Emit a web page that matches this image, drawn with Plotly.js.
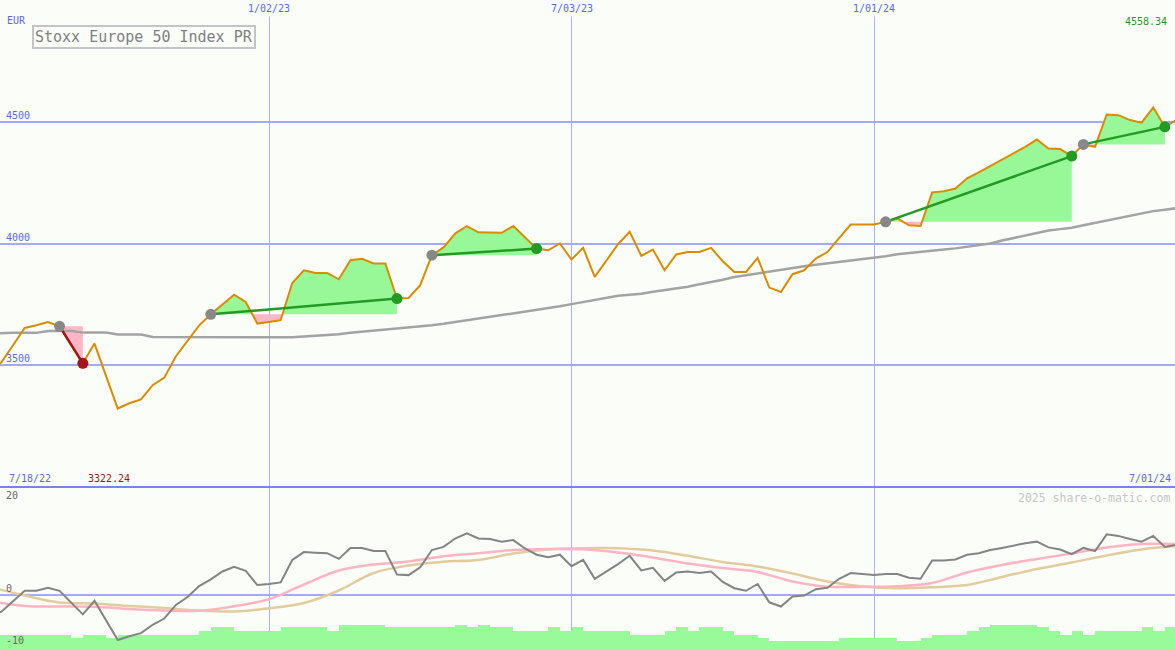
<!DOCTYPE html>
<html>
<head>
<meta charset="utf-8">
<script src="https://cdn.plot.ly/plotly-3.0.1.min.js"></script>
<style>
  html, body { margin: 0; padding: 0; background: #fbfdf9; }
  #chart { width: 1175px; height: 650px; }
</style>
</head>
<body>
<div id="chart"></div>
<script>
// ---------- DATA ----------
const firstWeek = '2022-07-18';
const weekCount = 103;

const price = [
  3480, 3512, 3582, 3653, 3664, 3677, 3660, 3586, 3508, 3589,
  3451, 3322.24, 3344, 3360, 3418, 3449, 3537, 3598, 3664, 3709,
  3750, 3790, 3760, 3671, 3678, 3685, 3838, 3890, 3879, 3879,
  3853, 3931, 3937, 3918, 3918, 3774, 3776, 3829, 3952, 3984,
  4041, 4071, 4046, 4045, 4044, 4072, 4026, 3979, 3972, 4000,
  3934, 3982, 3863, 3931, 3997, 4048, 3949, 3975, 3890, 3955,
  3965, 3965, 3982, 3927, 3883, 3883, 3941, 3819, 3801, 3874,
  3890, 3938, 3965, 4022, 4078, 4078, 4078, 4089, 4103, 4075,
  4072, 4210, 4215, 4226, 4268, 4292, 4318, 4342, 4371, 4397,
  4427, 4390, 4388, 4359, 4407, 4397, 4530, 4527, 4507, 4496,
  4558.34, 4479, 4507
];

const movingAvg = [
  3631, 3633, 3633, 3633, 3633, 3641, 3641, 3641, 3634, 3634,
  3634, 3626, 3626, 3626, 3616, 3616, 3616, 3614, 3614, 3614,
  3614, 3614, 3614, 3614, 3614, 3613, 3615, 3618, 3620, 3623,
  3627, 3633, 3637, 3642, 3646, 3650, 3655, 3659, 3664, 3670,
  3677, 3684, 3690, 3699, 3705, 3712, 3720, 3728, 3733, 3742,
  3751, 3760, 3768, 3775, 3785, 3790, 3794, 3802, 3808, 3816,
  3822, 3833, 3841, 3851, 3862, 3870, 3878, 3886, 3892, 3901,
  3907, 3913, 3919, 3925, 3931, 3934, 3941, 3948, 3956, 3960,
  3964, 3969, 3975, 3980, 3986, 3992, 4000, 4012, 4023, 4034,
  4044, 4053, 4059, 4065, 4075, 4085, 4095, 4104, 4114, 4125,
  4133, 4139, 4145
];

const momentum = [
  -3.8, -3.2, -1.2, 0.8, 0.8, 1.4, 0.8, -1.5, -3.7, -1.1,
  -4.8, -8.6, -7.9, -7.3, -5.7, -4.5, -1.9, -0.4, 1.7, 3.0,
  4.5, 5.4, 4.6, 1.9, 2.1, 2.4, 6.7, 8.2, 8.1, 8.0,
  6.9, 9.0, 9.0, 8.4, 8.4, 3.9, 3.8, 5.3, 8.6, 9.2,
  10.8, 11.8, 10.8, 10.7, 10.2, 10.5, 8.9, 7.7, 7.2, 7.7,
  5.5, 6.7, 3.1, 4.5, 5.9, 7.5, 4.7, 5.2, 2.7, 4.3,
  4.5, 4.2, 4.5, 2.5, 1.3, 0.8, 2.1, -1.4, -2.2, -0.3,
  -0.1, 1.1, 1.4, 3.1, 4.2, 4.0, 3.8, 4.0, 4.0, 3.3,
  3.1, 6.6, 6.6, 6.8, 7.7, 8.0, 8.6, 9.0, 9.5, 9.9,
  10.2, 9.1, 8.7, 7.8, 9.0, 8.4, 11.6, 11.3, 10.7, 10.2,
  11.3, 9.2, 9.6
];

// bottom green bars (top level of each weekly bar)
const strengthBars = [
  -7.6, -7.6, -7.6, -7.6, -7.6, -7.6, -7.6, -8.2, -7.6, -7.6,
  -8.2, -7.6, -7.6, -7.6, -7.6, -7.6, -7.6, -7.6, -6.9, -6.2,
  -6.2, -6.9, -6.9, -6.9, -6.9, -6.2, -6.2, -6.2, -6.2, -6.9,
  -5.7, -5.7, -5.7, -5.7, -6.2, -6.2, -6.2, -6.2, -6.2, -6.2,
  -5.7, -6.2, -5.7, -6.2, -6.2, -6.9, -6.9, -6.9, -6.2, -6.9,
  -6.2, -6.9, -6.9, -6.9, -6.9, -7.6, -7.6, -7.6, -6.9, -6.2,
  -6.9, -6.2, -6.2, -6.9, -7.6, -7.6, -8.2, -8.8, -8.8, -8.8,
  -8.8, -8.8, -8.8, -8.2, -8.2, -8.2, -8.2, -8.2, -8.8, -8.8,
  -8.2, -7.6, -7.6, -7.6, -6.9, -6.2, -5.7, -5.7, -5.7, -5.7,
  -6.2, -6.9, -7.6, -6.9, -7.6, -6.9, -6.9, -6.9, -6.9, -6.2,
  -6.9, -6.2, -6.2
];

// smoother indicator lines, read every third week
const pinkLine = [
  -1.15, -2.10, -2.20, -2.24, -2.68, -2.96, -3.02, -2.14, -0.82, 2.01,
  4.68, 5.83, 6.41, 7.42, 7.99, 8.60, 8.80, 8.74, 8.13, 7.17,
  6.02, 5.16, 4.40, 2.58, 1.59, 1.57, 1.68, 2.29, 4.30, 5.74,
  6.88, 7.93, 9.08, 9.75, 9.75
];
const tanLine = [
  1.53, -0.10, -1.43, -1.63, -2.10, -2.49, -3.00, -3.15, -2.54, -1.53,
  0.86, 4.21, 5.64, 6.37, 6.69, 7.93, 8.70, 8.93, 8.95, 8.51,
  7.50, 6.31, 5.45, 4.11, 2.58, 1.63, 1.30, 1.49, 1.91, 3.44,
  4.97, 6.21, 7.55, 8.70, 9.37
];

// trade signals
const signalEntry = ['2022-08-29', '2022-11-28', '2023-04-10', '2024-01-08', '2024-05-06'];
const signalExit  = ['2022-09-12', '2023-03-20', '2023-06-12', '2024-04-29', '2024-06-24'];

// tick labels
const gridDates  = ['2023-01-02', '2023-07-03', '2024-01-01'];
const gridLabels = ['1/02/23', '7/03/23', '1/01/24'];
const priceTicks = [3500, 4000, 4500];
const lowerTicks = [20, 0, -10];
const titleText = 'Stoxx Europe 50 Index PR';
const currency = 'EUR';
const startLabel = '7/18/22';
const endLabel = '7/01/24';
const minLabel = '3322.24';
const maxLabel = '4558.34';
const creditText = '2025 share-o-matic.com';

// ---------- BUILD ----------
const DAY = 86400000;
const t0 = Date.parse(firstWeek + 'T00:00:00Z');
const dates = [];
for (let i = 0; i < weekCount; i++) dates.push(new Date(t0 + i * 7 * DAY).toISOString().slice(0, 10));
const tms = dates.map(d => Date.parse(d + 'T00:00:00Z'));
const maDates = dates.filter((d, i) => i % 3 === 0);

const BG = '#fbfdf9';
const GREEN = '#239a23';
const RED = '#a51515';
const FILL_G = '#98f898';
const FILL_P = '#ffb6c6';
const MONO = 'DejaVu Sans Mono, monospace';

const traces = [];

// signal fills
signalEntry.forEach((en, s) => {
  const i0 = dates.indexOf(en), i1 = dates.indexOf(signalExit[s]);
  const L = price[i0];
  const pts = [];
  for (let i = i0; i <= i1; i++) {
    pts.push([tms[i], price[i]]);
    if (i < i1) {
      const a = price[i] - L, b = price[i + 1] - L;
      if (a * b < 0) {
        const f = (L - price[i]) / (price[i + 1] - price[i]);
        pts.push([tms[i] + f * (tms[i + 1] - tms[i]), L]);
      }
    }
  }
  const xs = pts.map(p => p[0]).concat([tms[i1], tms[i0]]);
  traces.push({
    x: xs, y: pts.map(p => Math.max(p[1], L)).concat([L, L]),
    xaxis: 'x', yaxis: 'y', type: 'scatter', mode: 'lines', fill: 'toself',
    fillcolor: FILL_G, line: { width: 0 }, hoverinfo: 'skip'
  });
  traces.push({
    x: xs, y: pts.map(p => Math.min(p[1], L)).concat([L, L]),
    xaxis: 'x', yaxis: 'y', type: 'scatter', mode: 'lines', fill: 'toself',
    fillcolor: FILL_P, line: { width: 0 }, hoverinfo: 'skip'
  });
});

// moving average
traces.push({ x: dates, y: movingAvg, xaxis: 'x', yaxis: 'y', type: 'scatter', mode: 'lines',
  line: { color: '#a3a3a3', width: 2.5 }, hoverinfo: 'skip' });
// price
traces.push({ x: dates, y: price, xaxis: 'x', yaxis: 'y', type: 'scatter', mode: 'lines',
  line: { color: '#dc8b00', width: 2 }, hoverinfo: 'skip' });

// signal lines and markers
signalEntry.forEach((en, s) => {
  const i0 = dates.indexOf(en), i1 = dates.indexOf(signalExit[s]);
  const win = price[i1] >= price[i0];
  const col = win ? GREEN : RED;
  traces.push({ x: [en, signalExit[s]], y: [price[i0], price[i1]], xaxis: 'x', yaxis: 'y',
    type: 'scatter', mode: 'lines', line: { color: col, width: 2.5 }, hoverinfo: 'skip' });
  traces.push({ x: [en], y: [price[i0]], xaxis: 'x', yaxis: 'y', type: 'scatter', mode: 'markers',
    marker: { color: '#888888', size: 11 }, hoverinfo: 'skip' });
  traces.push({ x: [signalExit[s]], y: [price[i1]], xaxis: 'x', yaxis: 'y', type: 'scatter', mode: 'markers',
    marker: { color: col, size: 11 }, hoverinfo: 'skip' });
});

// lower panel
const barBase = -12;
traces.push({ x: dates, y: strengthBars.map(v => v - barBase), base: barBase, xaxis: 'x2', yaxis: 'y2',
  type: 'bar', offset: 0, width: 7 * DAY, marker: { color: '#98fa98', line: { width: 0 } }, hoverinfo: 'skip' });
traces.push({ x: maDates, y: tanLine, xaxis: 'x2', yaxis: 'y2', type: 'scatter', mode: 'lines',
  line: { color: '#e3cc9c', width: 2.5, shape: 'spline' }, hoverinfo: 'skip' });
traces.push({ x: maDates, y: pinkLine, xaxis: 'x2', yaxis: 'y2', type: 'scatter', mode: 'lines',
  line: { color: '#ffb4c4', width: 2.5, shape: 'spline' }, hoverinfo: 'skip' });
traces.push({ x: dates, y: momentum, xaxis: 'x2', yaxis: 'y2', type: 'scatter', mode: 'lines',
  line: { color: '#848484', width: 2 }, hoverinfo: 'skip' });

// annotations
const H = 650, W = 1175;
const sep = (H - 487) / H;
const ann = [];
const lbl = (o) => Object.assign({ showarrow: false, font: { family: MONO, size: 10, color: '#5a68ee' } }, o);

ann.push(lbl({ text: currency, xref: 'paper', yref: 'paper', x: 5 / W, xanchor: 'left', y: 1 - 13 / H, yanchor: 'top' }));
priceTicks.forEach(v => ann.push(lbl({ text: String(v), xref: 'paper', yref: 'y', x: 4 / W, xanchor: 'left', y: v, yanchor: 'bottom', yshift: -1 })));
gridDates.forEach((d, i) => ann.push(lbl({ text: gridLabels[i], xref: 'x', yref: 'paper', x: d, xanchor: 'center', y: 1, yanchor: 'top', bgcolor: BG, borderpad: 2 })));
ann.push(lbl({ text: startLabel, xref: 'paper', yref: 'paper', x: 7 / W, xanchor: 'left', y: sep, yanchor: 'bottom', yshift: 1 }));
ann.push(lbl({ text: endLabel, xref: 'paper', yref: 'paper', x: 1 - 2 / W, xanchor: 'right', y: sep, yanchor: 'bottom', yshift: 1 }));
const iMin = price.indexOf(Math.min(...price));
const iMax = price.indexOf(Math.max(...price));
ann.push(lbl({ text: minLabel, xref: 'x', yref: 'paper', x: dates[iMin], xanchor: 'center', xshift: -9, y: sep, yanchor: 'bottom', yshift: 1, font: { family: MONO, size: 10, color: '#a01515' } }));
ann.push(lbl({ text: maxLabel, xref: 'x', yref: 'paper', x: dates[iMax], xanchor: 'center', xshift: -7, y: 1 - 14 / H, yanchor: 'top', font: { family: MONO, size: 10, color: '#1f991f' } }));
ann.push({ text: titleText, showarrow: false, xref: 'paper', yref: 'paper', x: 32 / W, xanchor: 'left', y: 1 - 25 / H, yanchor: 'top',
  font: { family: MONO, size: 15, color: '#808080' }, bordercolor: '#c4c4c4', borderwidth: 2, borderpad: 1, bgcolor: BG });
ann.push({ text: creditText, showarrow: false, xref: 'paper', yref: 'paper', x: 1 - 3 / W, xanchor: 'right', y: (H - 489) / H, yanchor: 'top',
  font: { family: MONO, size: 11.5, color: '#c6c6c6' } });
lowerTicks.forEach(v => ann.push(lbl({ text: String(v), xref: 'paper', yref: 'y2', x: 4 / W, xanchor: 'left', y: v,
  yanchor: v > 0 ? 'top' : 'bottom', yshift: v > 0 ? 2 : -1, font: { family: MONO, size: 10, color: '#666666' } })));

const xBase = {
  type: 'date', range: ['2022-07-24 03:36', '2024-06-30 02:24'], tickvals: gridDates,
  showticklabels: false, showgrid: true, gridcolor: '#a9b1f3', gridwidth: 1, zeroline: false, showline: false, fixedrange: true
};

const layout = {
  width: W, height: H, margin: { l: 0, r: 0, t: 0, b: 0 },
  paper_bgcolor: BG, plot_bgcolor: BG, showlegend: false, hovermode: false, bargap: 0,
  xaxis: Object.assign({}, xBase, { anchor: 'y' }),
  xaxis2: Object.assign({}, xBase, { anchor: 'y2', matches: 'x' }),
  yaxis: { domain: [sep, 1], range: [3000, 5000], tickvals: priceTicks, showticklabels: false,
    gridcolor: '#a3acf2', gridwidth: 2, zeroline: false, showline: false, fixedrange: true },
  yaxis2: { domain: [0, (H - 488) / H], range: [-10.52, 20.46], tickvals: [0], showticklabels: false,
    gridcolor: '#a3acf2', gridwidth: 2, zeroline: false, showline: false, fixedrange: true },
  shapes: [{ type: 'line', xref: 'paper', yref: 'paper', x0: 0, x1: 1, y0: sep, y1: sep,
    line: { color: '#7585ea', width: 2 } }],
  annotations: ann
};

Plotly.newPlot('chart', traces, layout, { staticPlot: true, displayModeBar: false });
</script>
</body>
</html>
